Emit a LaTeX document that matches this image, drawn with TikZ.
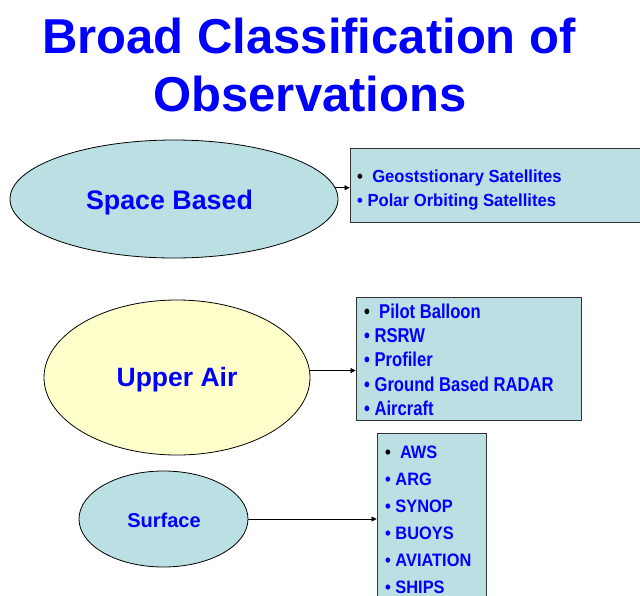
\documentclass[tikz,border=0pt]{standalone}
\usepackage{fontspec}
\setmainfont{Liberation Sans}
\newfontfamily\stA[FakeStretch=0.95]{Liberation Sans}
\newfontfamily\stB[FakeStretch=0.83]{Liberation Sans}
\newfontfamily\stC[FakeStretch=0.91]{Liberation Sans}
\usetikzlibrary{shapes.geometric,arrows.meta}
\definecolor{boxfill}{HTML}{BBE0E3}
\definecolor{yel}{HTML}{FFFFCC}
\definecolor{txtblue}{HTML}{0000FF}
\begin{document}
\begin{tikzpicture}[x=1pt,y=-1pt,
  title/.style={anchor=base,text=txtblue,font=\fontsize{49}{55}\selectfont\bfseries,inner sep=0},
  oval/.style={ellipse,draw=black,line width=0.8pt,inner sep=0},
  ovallabel/.style={anchor=base,text=txtblue,inner sep=0},
  listbox/.style={rectangle,draw=black!80,line width=0.9pt,fill=boxfill,inner sep=0},
  item/.style={anchor=base west,text=txtblue,inner sep=0},
  itemA/.style={item,font=\stA\fontsize{17.5}{20}\selectfont\bfseries},
  itemB/.style={item,font=\stB\fontsize{20}{24}\selectfont\bfseries},
  itemC/.style={item,font=\stC\fontsize{18}{22}\selectfont\bfseries},
  arr/.style={-{Triangle[length=5pt,width=5pt]},line width=0.7pt,black}]
\useasboundingbox (0,0) rectangle (640,595);
% title
\node[title] (t1) at (309,53) {Broad Classification of};
\node[title] (t2) at (310,111) {Observations};
% ovals
\node[oval,fill=boxfill,minimum width=328pt,minimum height=118pt] (space) at (174,199) {};
\node[oval,fill=yel,minimum width=266pt,minimum height=155pt] (upper) at (177,377.5) {};
\node[oval,fill=boxfill,minimum width=169pt,minimum height=96pt] (surf) at (163.5,519) {};
\node[ovallabel,font=\fontsize{26.8}{30}\selectfont\bfseries] (spacel) at (169.5,209.5) {Space Based};
\node[ovallabel,font=\fontsize{26.5}{30}\selectfont\bfseries] (upperl) at (177,386) {Upper Air};
\node[ovallabel,font=\fontsize{20}{24}\selectfont\bfseries] (surfl) at (164,527) {Surface};
% boxes
\node[listbox,minimum width=295pt,minimum height=74pt] (sbox) at (497.5,185) {};
\node[listbox,minimum width=225pt,minimum height=123pt] (ubox) at (468.5,358.5) {};
\node[listbox,minimum width=109pt,minimum height=182pt] (fbox) at (431.5,524) {};
% space items
\node[itemA] (s1) at (357,182) {\textcolor{black}{\textbullet}\ \ Geoststionary Satellites};
\node[itemA] (s2) at (357,206) {\textbullet\ Polar Orbiting Satellites};
% upper air items
\node[itemB] (u1) at (364,318) {\textcolor{black}{\textbullet}\ \ Pilot Balloon};
\node[itemB] (u2) at (364,342) {\textbullet\ RSRW};
\node[itemB] (u3) at (364,366.5) {\textbullet\ Profiler};
\node[itemB] (u4) at (364,391) {\textbullet\ Ground Based RADAR};
\node[itemB] (u5) at (364,415.5) {\textbullet\ Aircraft};
% surface items
\node[itemC] (f1) at (385,458) {\textcolor{black}{\textbullet}\ \ AWS};
\node[itemC] (f2) at (385,485) {\textbullet\ ARG};
\node[itemC] (f3) at (385,512) {\textbullet\ SYNOP};
\node[itemC] (f4) at (385,539) {\textbullet\ BUOYS};
\node[itemC] (f5) at (385,566) {\textbullet\ AVIATION};
\node[itemC] (f6) at (385,593) {\textbullet\ SHIPS};
% arrows
\draw[arr] (space.4) -- (space.4 -| sbox.west);
\draw[arr] (upper.3) -- (upper.3 -| ubox.west);
\draw[arr] (surf.east) -- (surf.east -| fbox.west);
\end{tikzpicture}
\end{document}
